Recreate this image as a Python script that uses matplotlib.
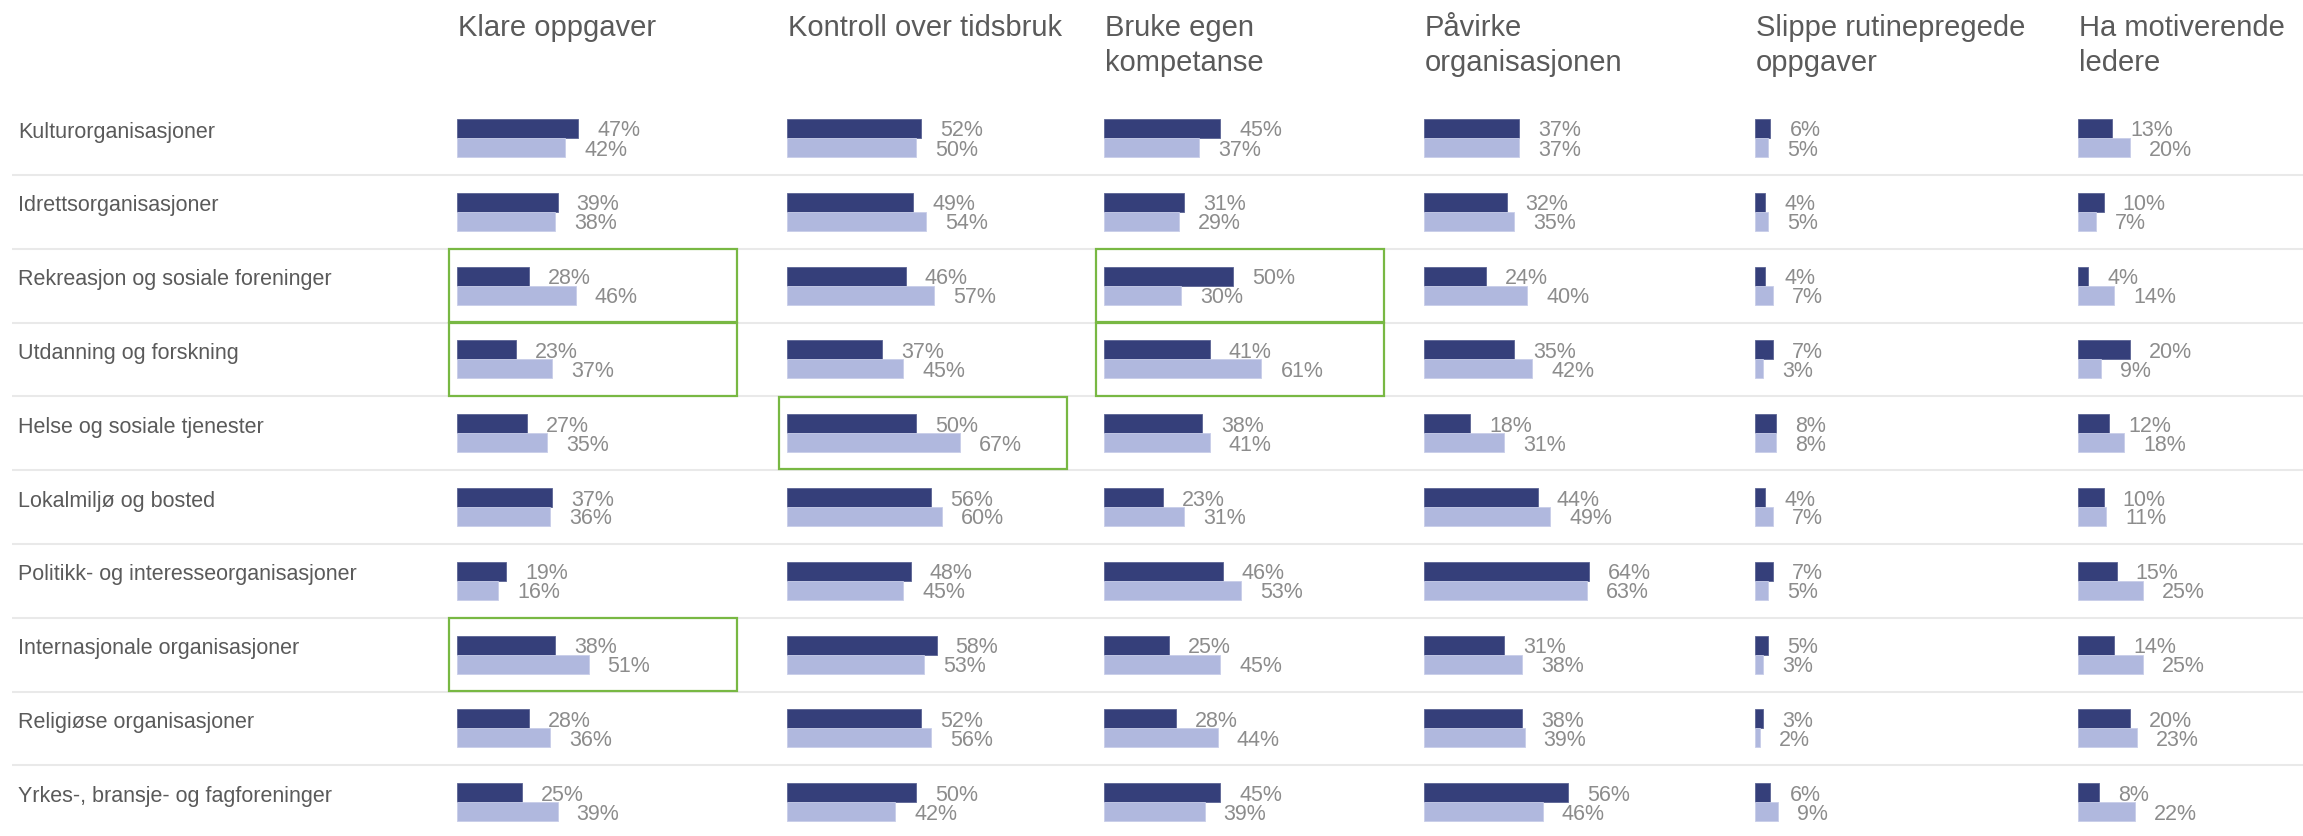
import matplotlib.pyplot as plt
from matplotlib.patches import Rectangle

plt.rcParams['font.family'] = ['Liberation Sans', 'DejaVu Sans']

rows = ['Kulturorganisasjoner', 'Idrettsorganisasjoner', 'Rekreasjon og sosiale foreninger',
        'Utdanning og forskning', 'Helse og sosiale tjenester', 'Lokalmiljø og bosted',
        'Politikk- og interesseorganisasjoner', 'Internasjonale organisasjoner',
        'Religiøse organisasjoner', 'Yrkes-, bransje- og fagforeninger']

titles = ['Klare oppgaver', 'Kontroll over tidsbruk', 'Bruke egen\nkompetanse',
          'Påvirke\norganisasjonen', 'Slippe rutinepregede\noppgaver', 'Ha motiverende\nledere']

dark = [
    [47, 39, 28, 23, 27, 37, 19, 38, 28, 25],
    [52, 49, 46, 37, 50, 56, 48, 58, 52, 50],
    [45, 31, 50, 41, 38, 23, 46, 25, 28, 45],
    [37, 32, 24, 35, 18, 44, 64, 31, 38, 56],
    [6, 4, 4, 7, 8, 4, 7, 5, 3, 6],
    [13, 10, 4, 20, 12, 10, 15, 14, 20, 8],
]
light = [
    [42, 38, 46, 37, 35, 36, 16, 51, 36, 39],
    [50, 54, 57, 45, 67, 60, 45, 53, 56, 42],
    [37, 29, 30, 61, 41, 31, 53, 45, 44, 39],
    [37, 35, 40, 42, 31, 49, 63, 38, 39, 46],
    [5, 5, 7, 3, 8, 7, 5, 3, 2, 9],
    [20, 7, 14, 9, 18, 11, 25, 25, 23, 22],
]

# (column, row) cells marked with a green frame
highlights = [(0, 2), (0, 3), (0, 7), (1, 4), (2, 2), (2, 3)]

W, H = 2303, 836
col_left = [457, 787, 1104, 1424, 1755, 2078]   # px where bars start
px_per_pct = 2.58
pitch = 73.8
top_px = 138 - pitch / 2
ax_w_px = 300

c_dark = '#353f7a'
c_light = '#b0b8de'
c_green = '#78b843'
c_text = '#5a5a5a'
c_val = '#8c8c8c'

fig = plt.figure(figsize=(W / 100, H / 100), dpi=100)

n = len(rows)
ax_h_px = n * pitch
bottom = (H - top_px - ax_h_px) / H
height = ax_h_px / H

# background axes for row labels and separators
bg = fig.add_axes([0, bottom, 1, height])
bg.set_xlim(0, 1)
bg.set_ylim(n - 0.5, -0.5)
bg.axis('off')
bg.hlines([i + 0.5 for i in range(n - 1)], 12 / W, 1, color='#e9e9e9', lw=1.5)
for i, r in enumerate(rows):
    bg.text(18 / W, i - 0.08, r, fontsize=15.5, color=c_text, va='center', ha='left')

bh = 19 / pitch
off = bh / 2
gap = 19 / px_per_pct
for c in range(len(titles)):
    ax = fig.add_axes([col_left[c] / W, bottom, ax_w_px / W, height])
    ax.set_xlim(0, ax_w_px / px_per_pct)
    ax.set_ylim(n - 0.5, -0.5)
    ax.axis('off')
    ys = list(range(n))
    ax.barh([y - off for y in ys], dark[c], height=bh, color=c_dark, edgecolor='#5c6494', lw=0.6)
    ax.barh([y + off for y in ys], light[c], height=bh, color=c_light, edgecolor='#c8cde9', lw=0.6)
    for y in ys:
        ax.text(dark[c][y] + gap, y - off, f'{dark[c][y]}%', fontsize=15.5, color=c_val,
                va='center_baseline', ha='left')
        ax.text(light[c][y] + gap, y + off, f'{light[c][y]}%', fontsize=15.5, color=c_val,
                va='center_baseline', ha='left')
    for hc, hr in highlights:
        if hc == c:
            ax.add_patch(Rectangle((-8 / px_per_pct, hr - 0.49), 288 / px_per_pct, 0.98,
                                   fill=False, edgecolor=c_green, lw=1.6, clip_on=False))
    fig.text((col_left[c] + 1) / W, 1 - 14 / H, titles[c], fontsize=21, color=c_text,
             va='top', ha='left', linespacing=1.33)

fig.savefig('out.png', dpi=100, facecolor='white')
